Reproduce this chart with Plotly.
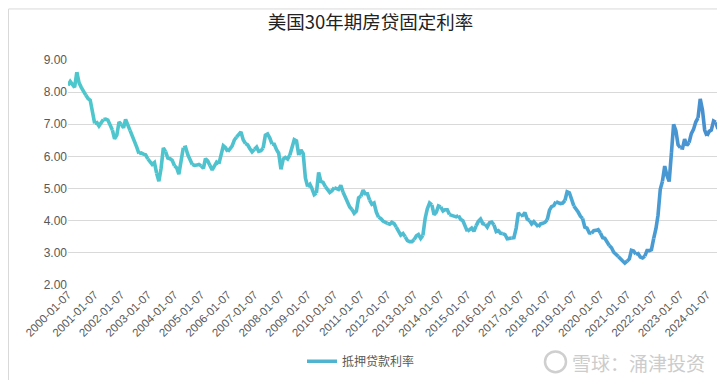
import plotly.graph_objects as go
import pandas as pd

# ---------------- data ----------------
title_text = "美国30年期房贷固定利率"
series_name = "抵押贷款利率"
start_date = "2000-01-07"

rates = [
    # 2000
    8.21, 8.33, 8.24, 8.15, 8.62, 8.29, 8.15, 8.03, 7.91, 7.80, 7.75, 7.38,
    # 2001
    7.03, 7.05, 6.95, 7.08, 7.15, 7.16, 7.13, 6.95, 6.82, 6.55, 6.66, 7.07,
    # 2002
    7.00, 6.89, 7.15, 6.99, 6.81, 6.65, 6.49, 6.29, 6.09, 6.11, 6.07, 6.05,
    # 2003
    5.92, 5.84, 5.75, 5.81, 5.48, 5.23, 5.63, 6.26, 6.15, 5.95, 5.93, 5.88,
    # 2004
    5.71, 5.64, 5.45, 5.83, 6.27, 6.29, 6.06, 5.87, 5.75, 5.72, 5.73, 5.75,
    # 2005
    5.71, 5.63, 5.93, 5.86, 5.72, 5.58, 5.70, 5.82, 5.77, 6.07, 6.33, 6.27,
    # 2006
    6.15, 6.25, 6.32, 6.51, 6.60, 6.68, 6.76, 6.52, 6.40, 6.36, 6.24, 6.14,
    # 2007
    6.22, 6.29, 6.16, 6.18, 6.26, 6.66, 6.70, 6.57, 6.38, 6.38, 6.21, 6.10,
    # 2008
    5.60, 5.92, 5.97, 5.92, 6.04, 6.32, 6.52, 6.48, 6.04, 6.20, 6.09, 5.33,
    # 2009
    5.06, 5.13, 5.00, 4.81, 4.86, 5.50, 5.22, 5.19, 5.06, 4.95, 4.88, 4.93,
    # 2010
    5.03, 4.99, 4.97, 5.10, 4.89, 4.74, 4.56, 4.43, 4.35, 4.23, 4.30, 4.71,
    # 2011
    4.76, 4.95, 4.84, 4.84, 4.64, 4.51, 4.55, 4.27, 4.11, 4.07, 3.99, 3.96,
    # 2012
    3.92, 3.89, 3.95, 3.91, 3.80, 3.68, 3.55, 3.60, 3.50, 3.38, 3.35, 3.35,
    # 2013
    3.41, 3.53, 3.57, 3.45, 3.54, 4.07, 4.37, 4.55, 4.49, 4.19, 4.26, 4.46,
    # 2014
    4.43, 4.30, 4.34, 4.34, 4.19, 4.16, 4.13, 4.12, 4.16, 4.04, 4.00, 3.86,
    # 2015
    3.67, 3.71, 3.77, 3.67, 3.84, 3.98, 4.05, 3.91, 3.89, 3.80, 3.94, 3.96,
    # 2016
    3.87, 3.66, 3.69, 3.61, 3.60, 3.57, 3.44, 3.44, 3.46, 3.47, 3.77, 4.25,
    # 2017
    4.15, 4.17, 4.25, 4.05, 4.01, 3.90, 3.97, 3.88, 3.81, 3.90, 3.92, 3.95,
    # 2018
    4.03, 4.33, 4.44, 4.47, 4.59, 4.57, 4.53, 4.55, 4.63, 4.90, 4.87, 4.64,
    # 2019
    4.46, 4.37, 4.27, 4.14, 4.07, 3.80, 3.77, 3.62, 3.61, 3.69, 3.70, 3.72,
    # 2020
    3.62, 3.47, 3.45, 3.31, 3.23, 3.16, 3.02, 2.94, 2.89, 2.83, 2.77, 2.68,
    # 2021
    2.74, 2.81, 3.08, 3.06, 2.96, 2.98, 2.87, 2.84, 2.90, 3.07, 3.07, 3.10,
    # 2022
    3.45, 3.76, 4.17, 4.98, 5.23, 5.70, 5.41, 5.22, 6.11, 7.00, 6.80, 6.36,
    # 2023
    6.27, 6.26, 6.54, 6.34, 6.43, 6.71, 6.84, 7.07, 7.20, 7.79, 7.44, 6.82,
    # 2024
    6.64, 6.78, 6.82, 7.10, 7.06, 6.86,
]

tick_labels = [f"{y}-01-07" for y in range(2000, 2025)]
y_ticks = [2, 3, 4, 5, 6, 7, 8, 9]

# ---------------- build ----------------
dates = [d + pd.Timedelta(days=6) for d in pd.date_range("2000-01-01", periods=len(rates), freq="MS")]

stops = [(0.0, (77, 199, 204)), (0.6, (80, 188, 210)), (0.8, (74, 165, 212)), (1.0, (72, 142, 208))]

def grad(t):
    for (t0, c0), (t1, c1) in zip(stops[:-1], stops[1:]):
        if t <= t1:
            f = (t - t0) / (t1 - t0) if t1 > t0 else 0
            return "rgb(%d,%d,%d)" % tuple(round(a + (b - a) * f) for a, b in zip(c0, c1))
    return "rgb(%d,%d,%d)" % stops[-1][1]

fig = go.Figure()
seg = 4
n = len(rates)
i = 0
while i < n - 1:
    j = min(i + seg, n - 1)
    t = ((i + j) / 2) / (n - 1)
    fig.add_trace(go.Scatter(
        x=dates[i:j + 1], y=rates[i:j + 1], mode="lines",
        line=dict(color=grad(t), width=3.6), showlegend=False, hoverinfo="skip"))
    i = j

fig.add_trace(go.Scatter(x=[None], y=[None], mode="lines", name=series_name,
                         line=dict(color="rgb(80,180,208)", width=3.4)))

L, R, T, B = 60, 15, 52, 101
W, H = 725, 380
pw, ph = W - L - R, H - T - B

def px(x):
    return (x - L) / pw

def py(y):
    return (H - B - y) / ph

fig.update_layout(
    width=W, height=H,
    margin=dict(l=L, r=R, t=T, b=B),
    paper_bgcolor="white", plot_bgcolor="white",
    title=dict(text=title_text, x=0.5, xanchor="center", y=1 - 8 / H, yanchor="top",
               font=dict(family="Noto Sans CJK SC", size=18.5, color="#222222")),
    font=dict(family="Liberation Sans, Arial", color="#595959", size=12),
    xaxis=dict(type="date", range=[dates[0], dates[-1]],
               tickvals=[f"{y}-01-07" for y in range(2000, 2025)], ticktext=tick_labels,
               tickangle=-45, showgrid=False, zeroline=False, showline=False, ticks="",
               tickfont=dict(size=11.5, color="#595959")),
    yaxis=dict(range=[2, 9], tickvals=y_ticks, tickformat=".2f", showgrid=True,
               gridcolor="#D9D9D9", gridwidth=1, zeroline=False, showline=False,
               ticks="", ticklen=0, tickfont=dict(size=12, color="#595959")),
    legend=dict(orientation="h", x=px(353), xanchor="center", y=py(356), yanchor="middle",
                font=dict(family="Noto Sans CJK SC", size=12, color="#595959"),
                itemwidth=30, bgcolor="rgba(0,0,0,0)"),
    shapes=[
        dict(type="rect", xref="paper", yref="paper",
             x0=px(0.5), x1=px(724.5), y0=py(379.5), y1=py(0.5),
             line=dict(color="#D9D9D9", width=1), fillcolor="rgba(0,0,0,0)", layer="below"),
        dict(type="circle", xref="paper", yref="paper",
             x0=px(537), x1=px(558), y0=py(367), y1=py(346),
             line=dict(color="#CFCFCF", width=2.5), fillcolor="rgba(0,0,0,0)"),
    ],
    annotations=[
        dict(text="雪球：涌津投资", xref="paper", yref="paper", x=px(562), y=py(357),
             xanchor="left", yanchor="middle", showarrow=False,
             font=dict(family="Noto Sans CJK SC", size=19, color="#CCCCCC")),
    ],
)

fig.write_html("out.html")
